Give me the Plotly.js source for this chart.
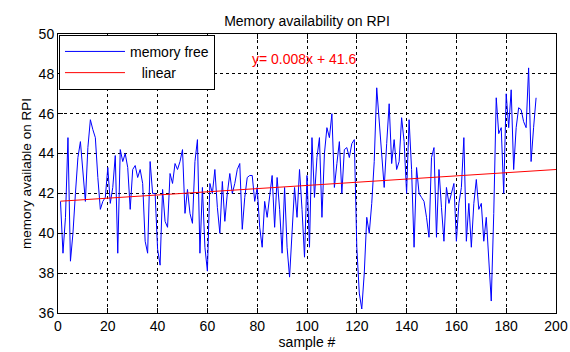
<!DOCTYPE html>
<html>
<head>
<meta charset="utf-8">
<script src="https://cdn.plot.ly/plotly-3.0.1.min.js"></script>
<style>html,body{margin:0;padding:0;background:#fff;}#chart{width:570px;height:352px;}</style>
</head>
<body>
<div id="chart"></div>
<script>
// memory free per sample (samples 1..192)
const memoryFree = [
 41.6,39.0,40.8,44.8,38.6,40.0,42.0,43.8,44.6,43.2,
 41.6,44.3,45.7,45.2,44.8,42.8,41.2,41.6,41.8,43.3,
 41.5,42.3,43.9,39.0,44.2,43.6,44.0,43.3,41.2,43.2,
 43.4,42.8,43.2,42.5,39.6,39.0,43.6,42.0,42.0,39.2,
 38.4,42.2,40.6,40.3,43.0,42.5,43.5,43.2,43.6,44.2,
 41.0,42.2,41.0,40.5,43.6,44.7,39.0,42.3,39.3,38.1,
 42.5,42.0,43.2,41.3,40.0,42.6,40.6,42.0,43.0,42.0,
 42.5,43.2,43.5,40.2,41.8,42.8,42.9,42.9,41.6,42.3,
 40.3,39.3,41.6,40.8,41.8,42.9,40.3,42.8,41.2,39.0,
 42.3,39.3,37.8,40.0,42.3,40.8,43.2,41.2,38.8,42.9,
 39.3,44.8,41.8,43.8,44.8,40.8,44.0,45.3,44.8,46.0,
 42.3,43.5,44.6,42.0,44.2,44.3,43.8,44.5,44.7,39.3,
 37.0,36.2,38.0,40.8,40.0,41.5,43.6,47.3,45.5,43.8,
 42.3,44.5,46.5,43.5,44.7,43.2,43.6,45.8,44.6,42.0,
 45.7,43.2,39.3,43.3,42.0,41.8,41.6,40.8,39.8,43.8,
 44.3,39.8,43.2,41.3,39.6,42.3,41.5,42.0,42.5,39.6,
 41.5,42.3,44.8,39.6,41.5,39.3,41.5,42.7,41.2,41.5,
 39.6,40.8,38.8,36.6,41.0,46.8,45.0,45.3,42.0,47.0,
 45.3,47.2,43.2,45.3,46.3,46.2,45.6,45.3,48.3,43.6,
 45.3,46.8
];
// linear fit end points
const fitX = [1, 200];
const fitY = [41.61, 43.2];
const xTicks = [0,20,40,60,80,100,120,140,160,180,200];
const yTicks = [36,38,40,42,44,46,48,50];
const fitLabel = "y= 0.008x + 41.6";

const sampleX = memoryFree.map((_, i) => i + 1);
const FONT = "Liberation Sans, Arial, sans-serif";

const traces = [
  {x: sampleX, y: memoryFree, type: "scatter", mode: "lines", name: "memory free",
   line: {color: "#0000ff", width: 1}},
  {x: fitX, y: fitY, type: "scatter", mode: "lines", name: "   linear",
   line: {color: "#ff0000", width: 1}}
];

const axisCommon = {
  showline: true, linecolor: "#000", linewidth: 1, mirror: "ticks",
  ticks: "inside", ticklen: 5, tickcolor: "#000",
  showgrid: true, gridcolor: "#000", gridwidth: 1, griddash: "3px,3px",
  zeroline: false, tickfont: {family: FONT, size: 14, color: "#000"}
};

const layout = {
  width: 570, height: 352,
  margin: {l: 58, r: 14, t: 34, b: 39},
  paper_bgcolor: "#fff", plot_bgcolor: "#fff",
  font: {family: FONT, color: "#000"},
  title: {text: "Memory availability on RPI", font: {family: FONT, size: 14, color: "#000"},
          x: 0.5, xref: "paper", y: 1, yref: "paper", yanchor: "bottom", pad: {b: 8}},
  xaxis: Object.assign({}, axisCommon, {range: [0, 200], tickvals: xTicks,
          title: {text: "sample #", font: {family: FONT, size: 14, color: "#000"}, standoff: 2}}),
  yaxis: Object.assign({}, axisCommon, {range: [36, 50], tickvals: yTicks,
          title: {text: "memory available on RPI", font: {family: FONT, size: 13.5, color: "#000"}, standoff: 3}}),
  showlegend: true,
  legend: {x: 0.002, y: 0.997, xanchor: "left", yanchor: "top", bgcolor: "#fff",
           bordercolor: "#000", borderwidth: 1, font: {family: FONT, size: 14, color: "#000"},
           itemwidth: 60, tracegroupgap: 0},
  annotations: [{x: fitX[0] + 76, y: 48.75, xref: "x", yref: "y", text: fitLabel, showarrow: false,
                 xanchor: "left", yanchor: "middle", font: {family: FONT, size: 14, color: "#ff0000"}}]
};

Plotly.newPlot("chart", traces, layout, {displayModeBar: false, staticPlot: true});
</script>
</body>
</html>
